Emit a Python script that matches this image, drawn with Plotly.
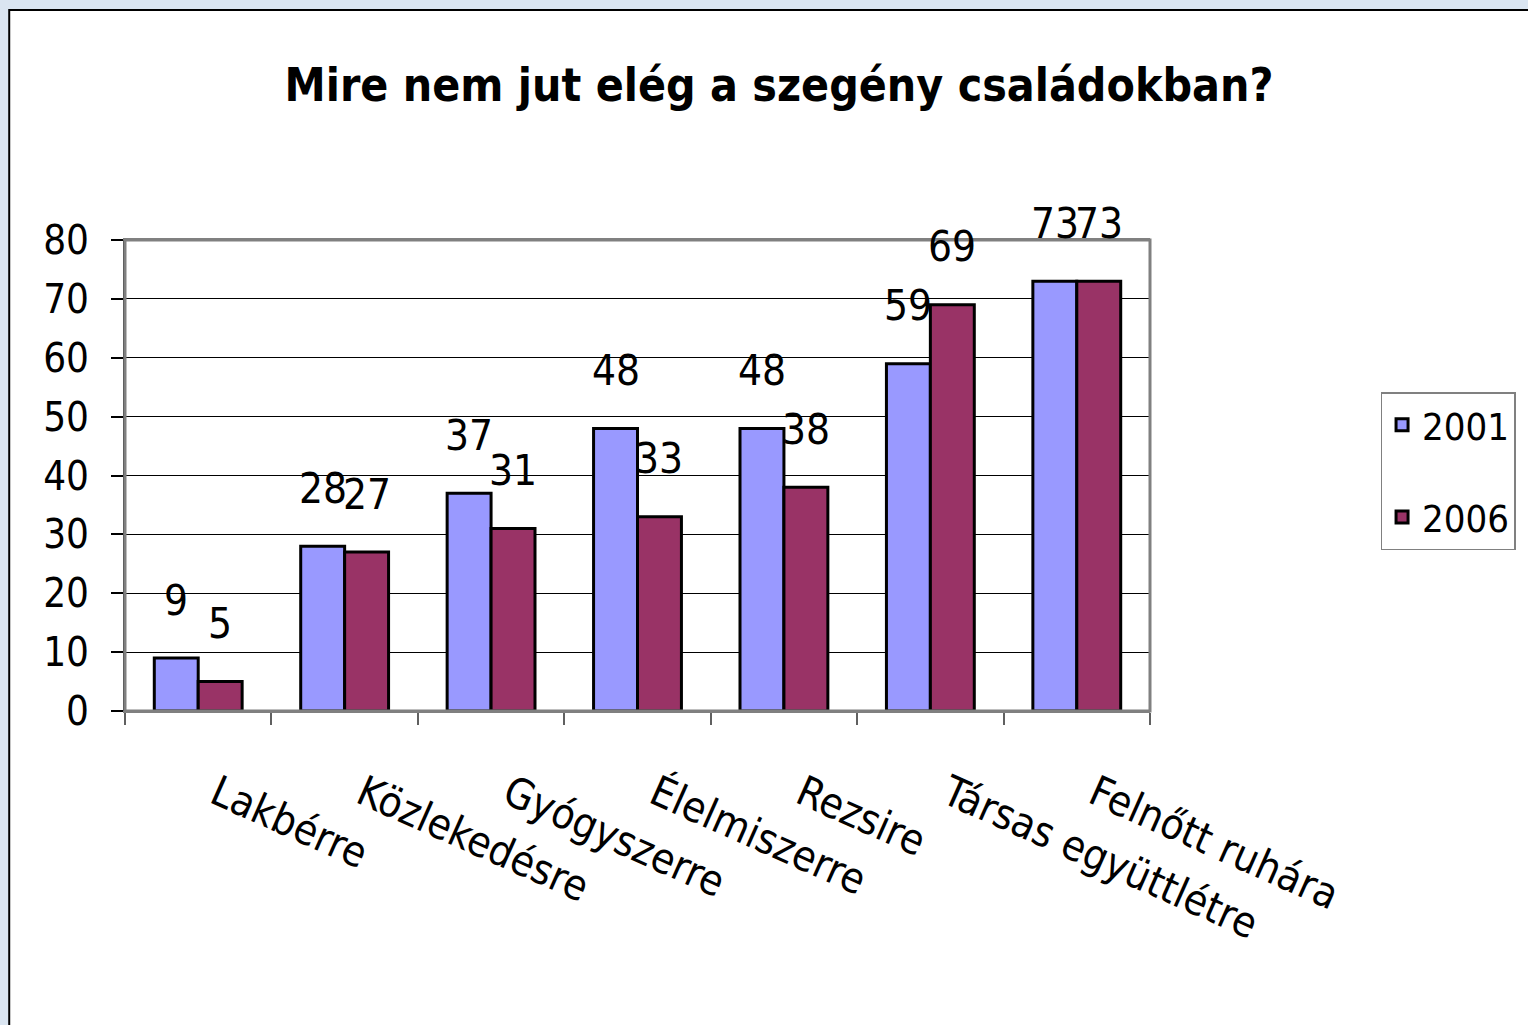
import plotly.graph_objects as go

categories = ["Lakbérre", "Közlekedésre", "Gyógyszerre", "Élelmiszerre", "Rezsire",
              "Társas együttlétre", "Felnőtt ruhára"]
values_2001 = [9, 28, 37, 48, 48, 59, 73]
values_2006 = [5, 27, 31, 33, 38, 69, 73]
series_names = ["2001", "2006"]
y_ticks = [0, 10, 20, 30, 40, 50, 60, 70, 80]
title_text = "Mire nem jut elég a szegény családokban?"

FONT = "Liberation Sans Narrow, Arial Narrow, DejaVu Sans Condensed, sans-serif"
C2001 = "#9999FF"
C2006 = "#993366"

W, H = 1528, 1025
l, r, t, b = 125, 376, 240, 314
pw, ph = W - l - r, H - t - b
def px(xp): return (xp - l) / pw
def py(yp): return (H - b - yp) / ph

fig = go.Figure()
for name, vals, col in [(series_names[0], values_2001, C2001), (series_names[1], values_2006, C2006)]:
    fig.add_trace(go.Bar(
        x=categories, y=vals, name=name, legendgroup=name,
        marker=dict(color=col, line=dict(color="black", width=3)),
        hoverinfo="x+y+name",
    ))

# data labels via annotations at data coordinates
for j, vals in enumerate([values_2001, values_2006]):
    off = -0.15 if j == 0 else 0.15
    for i, v in enumerate(vals):
        fig.add_annotation(x=i + off, y=v, text=str(v), showarrow=False,
                           yshift=58, font=dict(family=FONT, size=42, color="black"))

# white card with black border over light blue background
fig.add_shape(type="rect", xref="paper", yref="paper", layer="below",
              x0=px(9), x1=px(1560), y0=py(1060), y1=py(10),
              fillcolor="white", line=dict(color="black", width=2))
# plot area border (gray)
fig.add_shape(type="rect", xref="paper", yref="paper", layer="above",
              x0=0, x1=1, y0=0, y1=1, line=dict(color="#808080", width=3),
              fillcolor="rgba(0,0,0,0)")

fig.update_layout(
    width=W, height=H,
    paper_bgcolor="#DAE5F1",
    plot_bgcolor="#C0C0C0",
    margin=dict(l=l, r=r, t=t, b=b),
    bargap=0.4, bargroupgap=0,
    barmode="group",
    font=dict(family=FONT, size=42, color="black"),
    title=dict(text="<b>" + title_text + "</b>", x=779/W, xanchor="center",
               y=1-85/H, yanchor="middle",
               font=dict(family=FONT, size=46, color="black")),
    showlegend=True,
    legend=dict(x=px(1383), xanchor="left", y=py(392), yanchor="top",
                bgcolor="white", bordercolor="#808080", borderwidth=1.5,
                font=dict(family=FONT, size=38, color="black"),
                tracegroupgap=40, itemwidth=30),
    xaxis=dict(type="category", tickson="boundaries", ticks="outside", ticklen=12,
               tickcolor="#606060", tickwidth=2, tickangle=24,
               showline=True, linecolor="#808080", linewidth=2, mirror=True,
               showgrid=False, tickfont=dict(family=FONT, size=42),
               ticklabelstandoff=40, ticklabelshift=18),
    yaxis=dict(range=[0, 80], tickvals=y_ticks, ticks="outside", ticklen=12,
               tickcolor="black", tickwidth=2, showline=True, linecolor="#404040",
               linewidth=2, showgrid=True, gridcolor="black", gridwidth=1.2,
               zeroline=False, tickfont=dict(family=FONT, size=40),
               ticklabelstandoff=14),
)

fig.write_html("out.html", config={"displayModeBar": False},
               post_script="document.body.style.margin='0';document.body.style.overflow='hidden';")
